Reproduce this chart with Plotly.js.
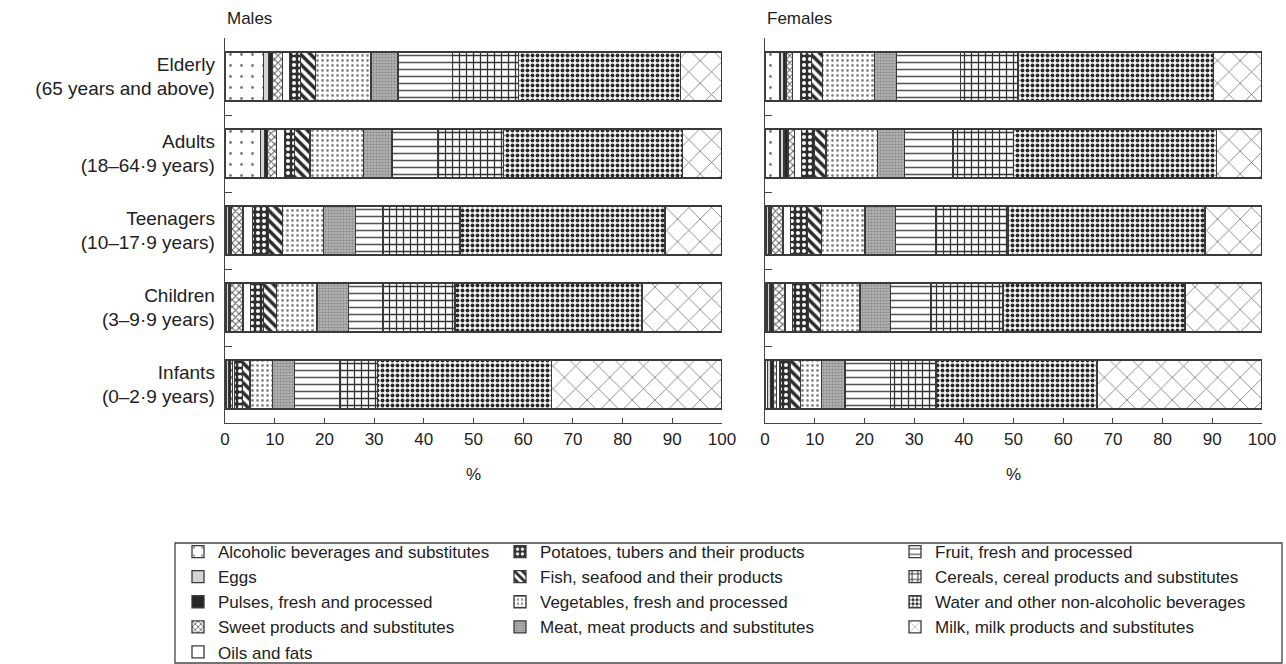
<!DOCTYPE html>
<html>
<head>
<meta charset="utf-8">
<script src="https://cdn.plot.ly/plotly-3.0.1.min.js"></script>
<style>html,body{margin:0;padding:0;background:#fff;}#chart{width:1286px;height:664px;}</style>
</head>
<body>
<div id="chart"></div>
<script>
// ---------- data ----------
var ageGroups = ["Elderly", "Adults", "Teenagers", "Children", "Infants"];
var ageLabels = ["Elderly<br>(65 years and above)", "Adults<br>(18–64·9 years)", "Teenagers<br>(10–17·9 years)", "Children<br>(3–9·9 years)", "Infants<br>(0–2·9 years)"];
var foodGroups = [
  "Alcoholic beverages and substitutes", "Eggs", "Pulses, fresh and processed",
  "Sweet products and substitutes", "Oils and fats", "Potatoes, tubers and their products",
  "Fish, seafood and their products", "Vegetables, fresh and processed",
  "Meat, meat products and substitutes", "Fruit, fresh and processed",
  "Cereals, cereal products and substitutes", "Water and other non-alcoholic beverages",
  "Milk, milk products and substitutes"
];
var xTicks = [0, 10, 20, 30, 40, 50, 60, 70, 80, 90, 100];

// values (%) per age group, in foodGroups order
var malesElderly  = [7.8, 1.0, 0.7, 2.0, 1.5, 2.2, 3.0, 11.2, 5.4, 11.0, 13.3, 32.5, 8.4];
var malesAdults   = [7.2, 0.8, 0.6, 1.8, 1.6, 2.0, 3.1, 10.7, 5.8, 9.1, 13.3, 36.0, 8.0];
var malesTeens    = [0.3, 0.5, 0.4, 2.4, 2.0, 3.1, 2.8, 8.3, 6.4, 5.6, 15.5, 41.2, 11.5];
var malesChildren = [0.3, 0.4, 0.3, 2.6, 1.6, 2.5, 2.7, 8.1, 6.3, 7.0, 14.5, 37.6, 16.1];
var malesInfants  = [0.2, 0.5, 0.4, 0.4, 0.4, 1.6, 1.5, 4.6, 4.4, 9.0, 7.7, 35.0, 34.3];

var femalesElderly  = [3.0, 0.7, 0.5, 1.4, 1.6, 2.1, 2.2, 10.6, 4.3, 13.0, 11.5, 39.4, 9.7];
var femalesAdults   = [3.0, 0.8, 0.8, 1.4, 1.3, 2.7, 2.3, 10.4, 5.4, 9.7, 12.2, 40.9, 9.1];
var femalesTeens    = [0.3, 0.5, 0.4, 2.4, 1.6, 3.3, 2.8, 8.8, 6.1, 8.2, 14.5, 39.6, 11.5];
var femalesChildren = [0.4, 0.6, 0.6, 2.4, 1.6, 3.1, 2.4, 8.0, 6.1, 8.2, 14.5, 36.6, 15.5];
var femalesInfants  = [0.5, 0.6, 0.6, 0.6, 0.7, 2.0, 2.2, 4.1, 4.8, 9.1, 9.2, 32.4, 33.2];

// which legend column each food group is listed in
var legendColumn = ["legend", "legend", "legend", "legend", "legend",
                    "legend2", "legend2", "legend2", "legend2",
                    "legend3", "legend3", "legend3", "legend3"];

// ---------- styles ----------
var styles = [
  {color: "#ffffff", pattern: {shape: ".", fgcolor: "#777", bgcolor: "#fff", size: 11, solidity: 0.05}},
  {color: "#d4d4d4", pattern: {shape: ""}},
  {color: "#262626", pattern: {shape: ""}},
  {color: "#ffffff", pattern: {shape: "x", fgcolor: "#555", bgcolor: "#fff", size: 5, solidity: 0.35}},
  {color: "#ffffff", pattern: {shape: ""}},
  {color: "#ffffff", pattern: {shape: ".", fgcolor: "#fff", bgcolor: "#2e2e2e", size: 6, solidity: 0.35}},
  {color: "#ffffff", pattern: {shape: "\\", fgcolor: "#2a2a2a", bgcolor: "#fff", size: 7, solidity: 0.5}},
  {color: "#ffffff", pattern: {shape: ".", fgcolor: "#8a8a8a", bgcolor: "#fff", size: 5, solidity: 0.25}},
  {color: "#a6a6a6", pattern: {shape: ".", fgcolor: "#888", bgcolor: "#b4b4b4", size: 3, solidity: 0.4}},
  {color: "#ffffff", pattern: {shape: "-", fgcolor: "#555", bgcolor: "#fff", size: 7, solidity: 0.22}},
  {color: "#ffffff", pattern: {shape: "+", fgcolor: "#333", bgcolor: "#fff", size: 7, solidity: 0.33}},
  {color: "#ffffff", pattern: {shape: ".", fgcolor: "#2a2a2a", bgcolor: "#fff", size: 5, solidity: 0.5}},
  {color: "#ffffff", pattern: {shape: "x", fgcolor: "#777", bgcolor: "#fff", size: 16, solidity: 0.1}}
];

var malesRows = [malesElderly, malesAdults, malesTeens, malesChildren, malesInfants];
var femalesRows = [femalesElderly, femalesAdults, femalesTeens, femalesChildren, femalesInfants];

var traces = [];
function addTraces(rows, xa, ya, showLeg) {
  foodGroups.forEach(function (name, i) {
    var st = styles[i];
    var pat = Object.assign({fillmode: "replace"}, st.pattern);
    traces.push({
      type: "bar",
      orientation: "h",
      name: name,
      legend: legendColumn[i],
      legendgroup: name,
      showlegend: showLeg,
      y: ageGroups,
      x: rows.map(function (r) { return r[i]; }),
      xaxis: xa,
      yaxis: ya,
      marker: {color: st.color, pattern: pat, line: {color: "#3a3a3a", width: 1.3}},
      hoverinfo: "name+x"
    });
  });
}
addTraces(malesRows, "x", "y", true);
addTraces(femalesRows, "x2", "y2", false);

var W = 1286, H = 664;
function px(x) { return x / W; }
function py(y) { return 1 - y / H; }

var font = {family: "Liberation Sans, Arial, sans-serif", size: 17, color: "#222"};

var xaxisBase = {
  range: [0, 100], tickvals: xTicks, ticks: "inside", ticklen: 5, tickcolor: "#444",
  showline: true, linecolor: "#444", linewidth: 1.3, showgrid: false, zeroline: false,
  tickfont: {size: 17, color: "#222"}, fixedrange: true, automargin: false,
  title: {text: "%", font: {size: 17, color: "#222"}, standoff: 20}
};
var yaxisBase = {
  type: "category", autorange: "reversed", ticks: "inside", ticklen: 7, tickcolor: "#444",
  tickson: "boundaries", showline: true, linecolor: "#444", linewidth: 1.3, showgrid: false,
  zeroline: false, fixedrange: true, automargin: false, ticklabelstandoff: 5,
  domain: [py(423), py(38)]
};

function legendAt(left, top) {
  return {
    orientation: "v", xref: "paper", yref: "paper",
    x: px(left), y: py(top), xanchor: "left", yanchor: "top",
    borderwidth: 0, bgcolor: "rgba(0,0,0,0)", traceorder: "normal",
    font: {size: 17, color: "#222"}, itemclick: false, itemdoubleclick: false
  };
}

var layout = {
  width: W, height: H,
  margin: {l: 0, r: 0, t: 0, b: 0, autoexpand: false},
  paper_bgcolor: "#fff", plot_bgcolor: "#fff",
  font: font,
  barmode: "stack",
  bargap: 0.36,
  showlegend: true,
  xaxis: Object.assign({}, xaxisBase, {domain: [px(225), px(722)], anchor: "y"}),
  xaxis2: Object.assign({}, xaxisBase, {domain: [px(765), px(1262)], anchor: "y2"}),
  yaxis: Object.assign({}, yaxisBase, {anchor: "x", tickvals: ageGroups, ticktext: ageLabels, tickfont: {size: 19, color: "#222"}}),
  yaxis2: Object.assign({}, yaxisBase, {anchor: "x2", showticklabels: false}),
  legend: legendAt(178, 534),
  legend2: legendAt(500, 534),
  legend3: legendAt(895, 534),
  shapes: [
    {type: "rect", xref: "paper", yref: "paper", x0: px(175), x1: px(1282), y0: py(663), y1: py(543),
     line: {color: "#444", width: 1.3}, fillcolor: "rgba(0,0,0,0)", layer: "below"}
  ],
  annotations: [
    {text: "Males", x: px(225), y: py(18), xref: "paper", yref: "paper", xanchor: "left", yanchor: "middle", showarrow: false, font: {size: 17, color: "#222"}},
    {text: "Females", x: px(765), y: py(18), xref: "paper", yref: "paper", xanchor: "left", yanchor: "middle", showarrow: false, font: {size: 17, color: "#222"}}
  ]
};

Plotly.newPlot("chart", traces, layout, {displayModeBar: false, staticPlot: true});
</script>
</body>
</html>
